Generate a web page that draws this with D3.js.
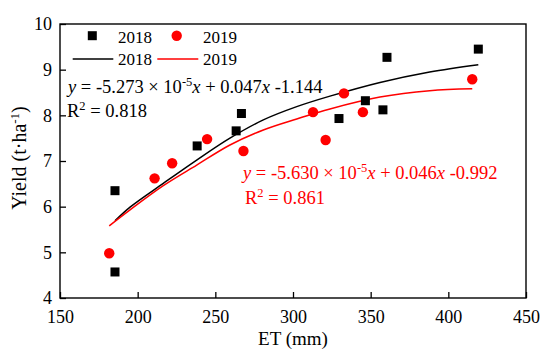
<!DOCTYPE html>
<html>
<head>
<meta charset="utf-8">
<script src="https://cdn.jsdelivr.net/npm/d3@7"></script>
<style>
  body { margin: 0; background: #fff; }
</style>
</head>
<body>
<script>
// observed points
const et2018 = [185.4, 185.4, 238.3, 263.4, 266.8, 329.6, 346.6, 357.9, 360.5, 419.3];
const yield2018 = [6.35, 4.57, 7.33, 7.66, 8.04, 7.93, 8.32, 8.12, 9.27, 9.45];
const et2019 = [181.7, 210.9, 222.2, 244.7, 268.1, 312.9, 321.0, 332.8, 345.0, 415.4];
const yield2019 = [4.98, 6.62, 6.95, 7.48, 7.22, 8.07, 7.46, 8.48, 8.07, 8.79];

// fitted curves
const fitEt2018 = [185.4, 195.1, 216.5, 238.0, 259.4, 280.9, 302.4, 323.8, 356, 388, 419.3];
const fitY2018 = [5.69, 5.99, 6.51, 7.02, 7.50, 7.90, 8.19, 8.42, 8.72, 8.95, 9.11];
const fitEt2019 = [181.7, 195.1, 216.5, 238.0, 259.4, 280.9, 302.4, 323.8, 356, 388, 415.4];
const fitY2019 = [5.58, 5.93, 6.46, 6.91, 7.35, 7.68, 7.92, 8.14, 8.40, 8.54, 8.58];

const xTicks = [150, 200, 250, 300, 350, 400, 450];
const yTicks = [4, 5, 6, 7, 8, 9, 10];

const width = 550;
const height = 359;
const mLeft = 60, mRight = 526, mTop = 24, mBottom = 298;
const serif = '"Liberation Serif", "Times New Roman", serif';

const xScale = d3.scaleLinear().domain([150, 450]).range([mLeft, mRight]);
const yScale = d3.scaleLinear().domain([4, 10]).range([mBottom, mTop]);

const svg = d3.select('body')
    .append('svg')
    .attr('width', width)
    .attr('height', height)
    .attr('font-family', serif);

// axes, ticks pointing inward
svg.append('g')
    .attr('transform', 'translate(0,' + mBottom + ')')
    .call(d3.axisBottom(xScale).tickValues(xTicks).tickFormat(d3.format('d'))
        .tickSizeInner(-6).tickSizeOuter(0).tickPadding(12))
    .attr('font-family', serif).attr('font-size', 18)
    .call(g => g.select('.domain').remove())
    .call(g => g.selectAll('line').attr('stroke-width', 1.3))
    .call(g => g.selectAll('text').attr('fill', '#000'));

svg.append('g')
    .attr('transform', 'translate(' + mLeft + ',0)')
    .call(d3.axisLeft(yScale).tickValues(yTicks).tickFormat(d3.format('d'))
        .tickSizeInner(-6).tickSizeOuter(0).tickPadding(8))
    .attr('font-family', serif).attr('font-size', 18)
    .call(g => g.select('.domain').remove())
    .call(g => g.selectAll('line').attr('stroke-width', 1.3))
    .call(g => g.selectAll('text').attr('fill', '#000'));

svg.append('rect')
    .attr('x', mLeft).attr('y', mTop)
    .attr('width', mRight - mLeft).attr('height', mBottom - mTop)
    .attr('fill', 'none').attr('stroke', '#000').attr('stroke-width', 1.4);

// axis titles
svg.append('text')
    .attr('x', (mLeft + mRight) / 2).attr('y', 345)
    .attr('text-anchor', 'middle').attr('font-size', 19)
    .text('ET (mm)');

const yl = svg.append('text')
    .attr('transform', 'translate(26,158) rotate(-90)')
    .attr('text-anchor', 'middle').attr('font-size', 20);
yl.append('tspan').text('Yield (t·ha');
yl.append('tspan').attr('dy', -7).attr('font-size', 13).text('-1');
yl.append('tspan').attr('dy', 7).text(')');

// fitted lines
const line = d3.line()
    .x(d => xScale(d[0]))
    .y(d => yScale(d[1]))
    .curve(d3.curveCatmullRom);

svg.append('path')
    .datum(fitEt2018.map((e, i) => [e, fitY2018[i]]))
    .attr('d', line)
    .attr('fill', 'none').attr('stroke', '#000').attr('stroke-width', 1.5);

svg.append('path')
    .datum(fitEt2019.map((e, i) => [e, fitY2019[i]]))
    .attr('d', line)
    .attr('fill', 'none').attr('stroke', '#ff0000').attr('stroke-width', 1.5);

// points
const sq = 9;
svg.selectAll('.p2018')
    .data(et2018.map((e, i) => [e, yield2018[i]]))
    .enter()
    .append('rect')
    .attr('class', 'p2018')
    .attr('x', d => xScale(d[0]) - sq / 2)
    .attr('y', d => yScale(d[1]) - sq / 2)
    .attr('width', sq).attr('height', sq)
    .attr('fill', '#000');

svg.selectAll('.p2019')
    .data(et2019.map((e, i) => [e, yield2019[i]]))
    .enter()
    .append('circle')
    .attr('class', 'p2019')
    .attr('cx', d => xScale(d[0]))
    .attr('cy', d => yScale(d[1]))
    .attr('r', 5.2)
    .attr('fill', '#ff0000');

// legend
const lg = svg.append('g').attr('font-size', 17);
lg.append('rect').attr('x', 92.3 - sq / 2).attr('y', 35.7 - sq / 2).attr('width', sq).attr('height', sq).attr('fill', '#000');
lg.append('text').attr('x', 118).attr('y', 42.5).text('2018');
lg.append('circle').attr('cx', 176.7).attr('cy', 35.7).attr('r', 5.2).attr('fill', '#ff0000');
lg.append('text').attr('x', 203).attr('y', 42.5).text('2019');
lg.append('line').attr('x1', 72.7).attr('x2', 113.3).attr('y1', 59).attr('y2', 59).attr('stroke', '#000').attr('stroke-width', 1.5);
lg.append('text').attr('x', 118).attr('y', 65).text('2018');
lg.append('line').attr('x1', 157.3).attr('x2', 198.3).attr('y1', 59).attr('y2', 59).attr('stroke', '#ff0000').attr('stroke-width', 1.5);
lg.append('text').attr('x', 203).attr('y', 65).text('2019');

// equations
function equation(x, y, color, parts) {
    const t = svg.append('text').attr('x', x).attr('y', y)
        .attr('font-size', 18.5).attr('fill', color);
    parts.forEach(p => {
        const s = t.append('tspan').text(p.t);
        if (p.i) s.attr('font-style', 'italic');
        if (p.sup) s.attr('dy', -7).attr('font-size', 12.5);
        if (p.down) s.attr('dy', 7);
    });
}

equation(68, 93, '#000', [
    { t: 'y', i: true }, { t: ' = -5.273 × 10' }, { t: '-5', sup: true },
    { t: 'x', i: true, down: true }, { t: ' + 0.047' }, { t: 'x', i: true }, { t: ' -1.144' }
]);
equation(67, 117, '#000', [{ t: 'R' }, { t: '2', sup: true }, { t: ' = 0.818', down: true }]);

equation(243, 179, '#ff0000', [
    { t: 'y', i: true }, { t: ' = -5.630 × 10' }, { t: '-5', sup: true },
    { t: 'x', i: true, down: true }, { t: ' + 0.046' }, { t: 'x', i: true }, { t: ' -0.992' }
]);
equation(245, 204, '#ff0000', [{ t: 'R' }, { t: '2', sup: true }, { t: ' = 0.861', down: true }]);
</script>
</body>
</html>
